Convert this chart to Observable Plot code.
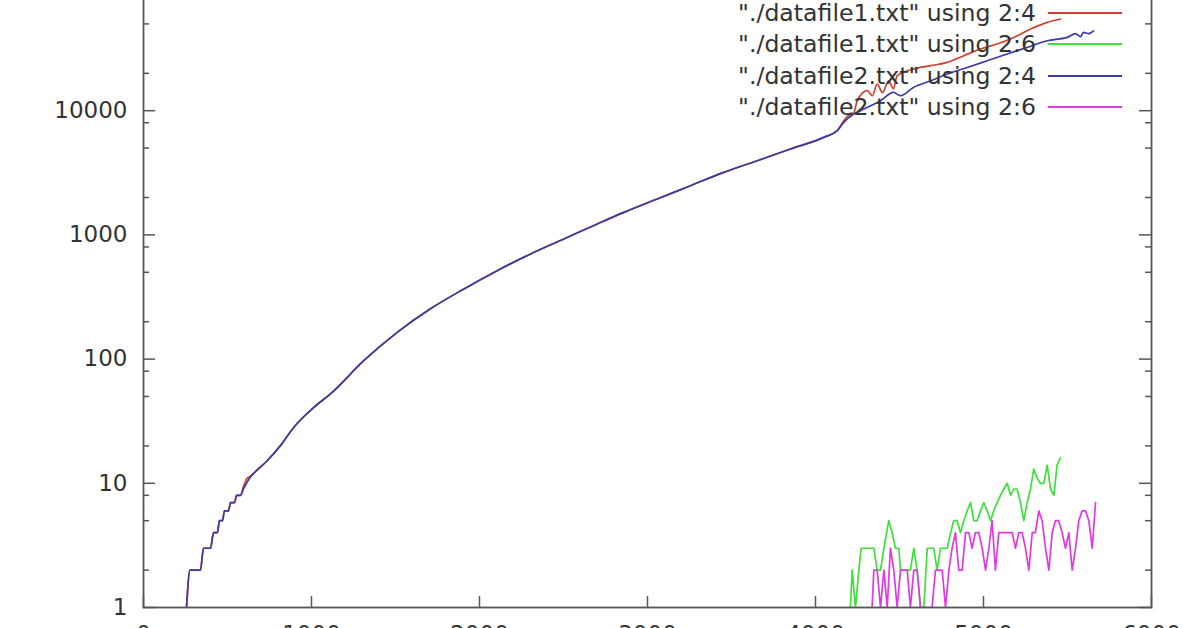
<!DOCTYPE html>
<html>
<head>
<meta charset="utf-8">
<script src="https://cdn.jsdelivr.net/npm/d3@7"></script>
<script src="https://cdn.jsdelivr.net/npm/@observablehq/plot@0.6"></script>
<style>
  html, body { margin: 0; padding: 0; width: 1196px; height: 628px; overflow: hidden; background: #fff; }
  #wrap { position: relative; width: 1196px; height: 628px; overflow: hidden; }
  #chart { position: absolute; left: 0; top: -54px; }
  #legend { position: absolute; left: 0; top: 0; width: 1196px; height: 140px; font-family: "DejaVu Sans", sans-serif; font-size: 23.6px; color: #333; }
  .row { position: absolute; right: 74px; height: 31px; display: flex; align-items: center; white-space: nowrap; }
  .sample { display: inline-block; width: 74px; height: 2px; margin-left: 12px; }
</style>
</head>
<body>
<div id="wrap"><div id="chart"></div><div id="legend"></div></div>
<script>
// ---- axis ticks ----
const xTicks = [0, 1000, 2000, 3000, 4000, 5000, 6000];
const xTickLabels = ["0", "1000", "2000", "3000", "4000", "5000", "6000"];
const yMajor = [1, 10, 100, 1000, 10000, 100000];
const yLabelTicks = [1, 10, 100, 1000, 10000];
const yLabels = ["1", "10", "100", "1000", "10000"];
const yMinor = [2, 5, 8, 20, 50, 80, 200, 500, 800, 2000, 5000, 8000, 20000, 50000, 80000];

// ---- series ----
const seriesNames = [
  "\"./datafile1.txt\" using 2:4",
  "\"./datafile1.txt\" using 2:6",
  "\"./datafile2.txt\" using 2:4",
  "\"./datafile2.txt\" using 2:6"
];
const seriesColors = ["#d0402e", "#3fe03a", "#3d3aa3", "#e03ae0"];

// datafile1 column 4
const f1c4X = [256, 277, 339, 357, 399, 417, 440, 452, 470, 482, 506, 518, 542, 554, 577, 595, 613, 631, 655, 736, 815, 895, 1014, 1113, 1311, 1510, 1708, 1907, 2105, 2304, 2502, 2701, 2859, 3058, 3256, 3454, 3653, 3851, 4049, 4129, 4168, 4190, 4228,
  4248, 4308, 4339, 4367, 4399, 4435, 4464, 4486, 4585, 4685, 4784, 4883, 4982, 5081, 5180, 5280, 5379, 5458];
const f1c4Y = [1, 2, 2, 3, 3, 4, 4, 5, 5, 6, 6, 7, 7, 8, 8, 9.4, 10.8, 11.3, 12, 15.2, 20.1, 28.3, 40.9, 52.5, 97, 164, 254, 367, 515, 703, 927, 1225, 1518, 1945, 2490, 3185, 3955, 4915, 6100, 6900, 8300, 9000, 9600,
  12000, 14500, 13200, 16400, 13960, 17400, 15040, 19140, 21660, 23030, 24480, 27720, 31390, 34450, 38900, 45450, 51400, 54700];

// datafile1 column 6
const f1c6X = [4208, 4218, 4238, 4258, 4272, 4288, 4308, 4327, 4347, 4367, 4387, 4407, 4436, 4456, 4476, 4496, 4506, 4526, 4546, 4565, 4585, 4605, 4625, 4645, 4665, 4684, 4704, 4724, 4744, 4764, 4784, 4804, 4823, 4843, 4863, 4883, 4903, 4923, 4942, 4962, 4982, 5002, 5022, 5042, 5061, 5081, 5101, 5121, 5141, 5161, 5180, 5200, 5220, 5240, 5260, 5280, 5299, 5319, 5339, 5359, 5379, 5399, 5419, 5438, 5458];
const f1c6Y = [1, 2, 1, 2, 3, 3, 3, 3, 3, 2, 2, 3, 5, 4, 3, 3, 2, 2, 2, 2, 3, 2, 1, 1, 3, 3, 3, 2, 3, 3, 3, 4, 5, 5, 4, 5, 6, 7, 5, 5, 6, 7, 6, 5, 6, 7, 8, 9, 10, 8, 9, 9, 7, 5, 7, 9, 13, 11, 10, 10, 14, 9, 8, 14, 16];

// datafile2 column 4
const f2c4X = [256, 277, 339, 357, 399, 417, 440, 452, 470, 482, 506, 518, 542, 554, 577, 595, 613, 631, 655, 736, 815, 895, 1014, 1113, 1311, 1510, 1708, 1907, 2105, 2304, 2502, 2701, 2859, 3058, 3256, 3454, 3653, 3851, 4049, 4129, 4168, 4228,
  4268, 4387, 4464, 4506, 4583, 4685, 4784, 4903, 5022, 5141, 5260, 5379, 5498, 5548, 5577, 5595, 5625, 5655];
const f2c4Y = [1, 2, 2, 3, 3, 4, 4, 5, 5, 6, 6, 7, 7, 8, 8, 9, 10, 11, 12, 15.2, 20.1, 28.3, 40.9, 52.5, 97, 164, 254, 367, 515, 703, 927, 1225, 1518, 1945, 2490, 3185, 3955, 4915, 6100, 6900, 8050, 9400,
  10000, 12030, 14030, 13200, 15400, 17400, 19740, 22300, 25250, 28600, 32300, 36570, 38900, 41700, 39400, 42700, 41700, 44000];

// datafile2 column 6
const f2c6X = [4337, 4347, 4367, 4387, 4407, 4427, 4446, 4466, 4486, 4506, 4526, 4546, 4565, 4585, 4605, 4625, 4645, 4665, 4694, 4714, 4734, 4754, 4774, 4794, 4813, 4833, 4853, 4873, 4893, 4913, 4932, 4952, 4972, 4992, 5012, 5032, 5051, 5071, 5091, 5111, 5131, 5151, 5171, 5190, 5210, 5230, 5250, 5270, 5290, 5309, 5329, 5349, 5369, 5389, 5409, 5428, 5448, 5468, 5488, 5508, 5528, 5548, 5567, 5587, 5607, 5627, 5647, 5667];
const f2c6Y = [1, 2, 2, 1, 2, 1, 3, 2, 1, 2, 2, 2, 1, 2, 2, 1, 1, 1, 1, 2, 2, 2, 1, 2, 3, 4, 2, 2, 4, 4, 3, 4, 4, 3, 2, 3, 5, 2, 4, 4, 4, 4, 4, 3, 4, 4, 3, 2, 4, 4, 6, 5, 3, 2, 4, 5, 5, 4, 3, 4, 2, 3, 5, 6, 6, 5, 3, 7];

const seriesX = [f1c4X, f1c6X, f2c4X, f2c6X];
const seriesY = [f1c4Y, f1c6Y, f2c4Y, f2c6Y];
const seriesCurve = ["monotone-x", "linear", "monotone-x", "linear"];
const tables = seriesX.map((xs, s) => xs.map((x, i) => ({x, y: seriesY[s][i]})));

// ---- layout ----
const W = 1196, H = 720, mT = 40, mB = 59, mL = 143, mR = 45;
const plotW = W - mL - mR, plotH = H - mT - mB;
const axisColor = "#555";
const majorLen = 12, minorLen = 6, xTickLen = 11;

const chart = Plot.plot({
  width: W, height: H,
  marginTop: mT, marginBottom: mB, marginLeft: mL, marginRight: mR,
  style: {fontFamily: "DejaVu Sans", fontSize: "23px", color: "#333", background: "#fff"},
  x: {domain: [0, 6000], label: null},
  y: {type: "log", domain: [1, 100000], label: null},
  marks: [
    // tick marks, inward on all sides
    Plot.tickY(yMajor, {y: d => d, insetRight: plotW - majorLen, stroke: axisColor, strokeWidth: 1.5}),
    Plot.tickY(yMajor, {y: d => d, insetLeft: plotW - majorLen, stroke: axisColor, strokeWidth: 1.5}),
    Plot.tickY(yMinor, {y: d => d, insetRight: plotW - minorLen, stroke: axisColor, strokeWidth: 1.5}),
    Plot.tickY(yMinor, {y: d => d, insetLeft: plotW - minorLen, stroke: axisColor, strokeWidth: 1.5}),
    Plot.tickX(xTicks, {x: d => d, insetTop: plotH - xTickLen, stroke: axisColor, strokeWidth: 1.5}),
    Plot.tickX(xTicks, {x: d => d, insetBottom: plotH - xTickLen, stroke: axisColor, strokeWidth: 1.5}),
    Plot.axisY(yLabelTicks, {tickSize: 0, tickPadding: 16, label: null, tickFormat: d => yLabels[yLabelTicks.indexOf(d)], fill: "#333"}),
    Plot.axisX(xTicks, {tickSize: 0, tickPadding: 18, label: null, tickFormat: d => xTickLabels[xTicks.indexOf(d)], fill: "#333"}),
    ...tables.map((t, s) => Plot.line(t, {x: "x", y: "y", stroke: seriesColors[s], strokeWidth: 1.7, curve: seriesCurve[s], clip: true})),
    Plot.frame({stroke: axisColor, strokeWidth: 1.8})
  ]
});
document.getElementById("chart").appendChild(chart);

// ---- legend (gnuplot key, top right inside the plot) ----
const legend = document.getElementById("legend");
seriesNames.forEach((name, i) => {
  const row = document.createElement("div");
  row.className = "row";
  row.style.top = (-2.2 + 31.1 * i) + "px";
  const label = document.createElement("span");
  label.textContent = name;
  const sample = document.createElement("span");
  sample.className = "sample";
  sample.style.background = seriesColors[i];
  row.appendChild(label);
  row.appendChild(sample);
  legend.appendChild(row);
});
</script>
</body>
</html>
